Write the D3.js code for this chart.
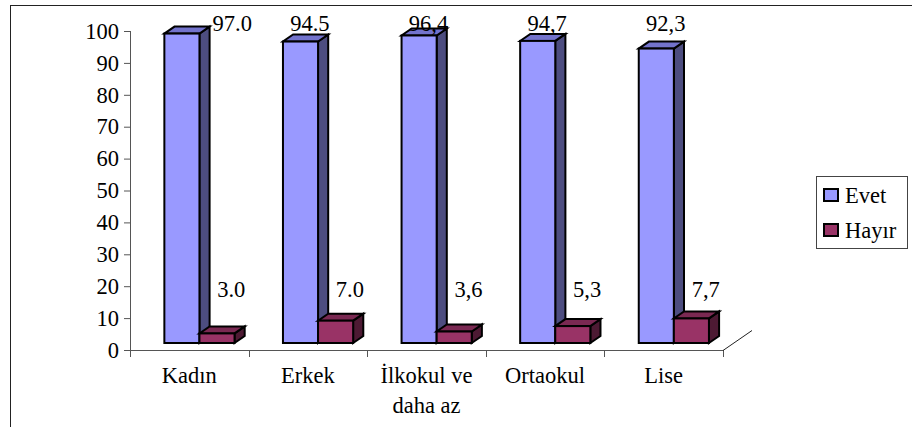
<!DOCTYPE html>
<html>
<head>
<meta charset="utf-8">
<script src="https://cdn.jsdelivr.net/npm/d3@7"></script>
</head>
<body style="margin:0">
<script>
// Survey answers by group (percent)
const categories = ["Kadın", "Erkek", "İlkokul ve\ndaha az", "Ortaokul", "Lise"];
const seriesNames = ["Evet", "Hayır"];
const evet = [97.0, 94.5, 96.4, 94.7, 92.3];
const hayir = [3.0, 7.0, 3.6, 5.3, 7.7];
const evetLabels = ["97.0", "94.5", "96,4", "94,7", "92,3"];
const hayirLabels = ["3.0", "7.0", "3,6", "5,3", "7,7"];
const yTicks = [0, 10, 20, 30, 40, 50, 60, 70, 80, 90, 100];

const W = 912, H = 427;
const FONT = 22.5;
const serif = sel => sel.style("font-family", '"Liberation Serif"').attr("font-size", FONT).attr("fill", "#000");

// face colours per series: front, top, side
const palette = {
  "Evet": { front: "#9999ff", top: "#7373cc", side: "#4d4d80" },
  "Hayır": { front: "#993366", top: "#7a2952", side: "#4d1a33" }
};

const svg = d3.select("body").append("svg")
  .attr("width", W).attr("height", H)
  .style("display", "block");

// outer frame (only top and left edges fall inside the view)
svg.append("rect")
  .attr("x", 10.5).attr("y", 5.5)
  .attr("width", W + 20).attr("height", H + 20)
  .attr("fill", "none").attr("stroke", "#222").attr("stroke-width", 1);

const plot = { left: 130, right: 723, top: 31, bottom: 350 };
// full floor depth vector and the slice of it the columns occupy
const depth = { x: 29, y: -20 };
const colFront = 0.35, colBack = 0.70;

const x = d3.scaleBand().domain(categories).range([plot.left, plot.right]).padding(0);
const xs = d3.scaleBand().domain(seriesNames).range([0, x.bandwidth()])
  .paddingInner(0).paddingOuter(0.69);
const y = d3.scaleLinear().domain([0, 100]).range([plot.bottom, plot.top]);

const axisColor = "#555";

// y axis
const yAxis = svg.append("g")
  .attr("transform", `translate(${plot.left},0)`)
  .call(d3.axisLeft(y).tickValues(yTicks).tickSize(6).tickPadding(5).tickFormat(d3.format("d")));
yAxis.attr("font-family", null).attr("font-size", null);
yAxis.select(".domain").attr("stroke", axisColor).attr("d", `M0.5,${plot.top}V${plot.bottom + 6}`);
yAxis.selectAll(".tick line").attr("stroke", axisColor);
yAxis.selectAll(".tick text").call(serif);

// x axis line, category boundary ticks and the floor edge
const xAxis = svg.append("g");
xAxis.append("line")
  .attr("x1", plot.left).attr("x2", plot.right)
  .attr("y1", y(0) + 0.5).attr("y2", y(0) + 0.5)
  .attr("stroke", axisColor);
const bounds = categories.map(c => x(c)).concat([plot.right]);
xAxis.selectAll("line.tk").data(bounds).join("line")
  .attr("class", "tk")
  .attr("x1", d => Math.round(d) + 0.5).attr("x2", d => Math.round(d) + 0.5)
  .attr("y1", y(0)).attr("y2", y(0) + 7)
  .attr("stroke", axisColor);
xAxis.append("line")
  .attr("x1", plot.right).attr("y1", y(0) + 0.5)
  .attr("x2", plot.right + depth.x).attr("y2", y(0) + 0.5 + depth.y)
  .attr("stroke", "#222");

// category labels (multi-line where needed)
const catLabels = svg.append("g").selectAll("text").data(categories).join("text")
  .attr("x", d => x(d) + x.bandwidth() / 2)
  .attr("y", 383)
  .attr("text-anchor", "middle")
  .call(serif);
catLabels.each(function (d) {
  const lines = d.split("\n");
  d3.select(this).selectAll("tspan").data(lines).join("tspan")
    .attr("x", x(d) + x.bandwidth() / 2)
    .attr("dy", (l, i) => i === 0 ? 0 : 30)
    .text(l => l);
});

// 3D columns
const rows = [];
categories.forEach((c, i) => {
  rows.push({ cat: c, series: "Evet", value: evet[i] });
  rows.push({ cat: c, series: "Hayır", value: hayir[i] });
});

const fx = colFront * depth.x, fy = colFront * depth.y;
const bx = colBack * depth.x, by = colBack * depth.y;

const cols = svg.append("g").selectAll("g").data(rows).join("g");
cols.each(function (d) {
  const g = d3.select(this);
  const x0 = x(d.cat) + xs(d.series) + fx;
  const x1 = x0 + xs.bandwidth();
  const yT = y(d.value) + fy;
  const yB = y(0) + fy;
  const ddx = bx - fx, ddy = by - fy;
  const col = palette[d.series];
  const style = s => s.attr("stroke", "#000").attr("stroke-width", 2).attr("stroke-linejoin", "miter");
  // side face
  style(g.append("polygon")
    .attr("points", [[x1, yB], [x1 + ddx, yB + ddy], [x1 + ddx, yT + ddy], [x1, yT]].join(" "))
    .attr("fill", col.side));
  // top face
  style(g.append("polygon")
    .attr("points", [[x0, yT], [x1, yT], [x1 + ddx, yT + ddy], [x0 + ddx, yT + ddy]].join(" "))
    .attr("fill", col.top));
  // front face
  style(g.append("rect")
    .attr("x", x0).attr("y", yT)
    .attr("width", x1 - x0).attr("height", yB - yT)
    .attr("fill", col.front));
});

// value labels
const evetLabelY = 31, hayirLabelY = 297;
const evetNudge = [41, 0, 0, 0, 0];
svg.append("g").selectAll("text").data(categories).join("text")
  .attr("x", (d, i) => x(d) + x.bandwidth() / 2 + 2 + evetNudge[i])
  .attr("y", evetLabelY)
  .attr("text-anchor", "middle")
  .call(serif)
  .text((d, i) => evetLabels[i]);
svg.append("g").selectAll("text").data(categories).join("text")
  .attr("x", d => x(d) + x.bandwidth() / 2 + 42)
  .attr("y", hayirLabelY)
  .attr("text-anchor", "middle")
  .call(serif)
  .text((d, i) => hayirLabels[i]);

// legend
const lg = svg.append("g");
lg.append("rect")
  .attr("x", 816.5).attr("y", 176.5).attr("width", 91).attr("height", 72)
  .attr("fill", "#fff").attr("stroke", "#444").attr("stroke-width", 1);
seriesNames.forEach((s, i) => {
  lg.append("rect")
    .attr("x", 824).attr("y", 189 + i * 35).attr("width", 14).attr("height", 12)
    .attr("fill", palette[s].front).attr("stroke", "#000").attr("stroke-width", 2);
  lg.append("text")
    .attr("x", 845).attr("y", 203 + i * 35)
    .call(serif)
    .text(s);
});
</script>
</body>
</html>
